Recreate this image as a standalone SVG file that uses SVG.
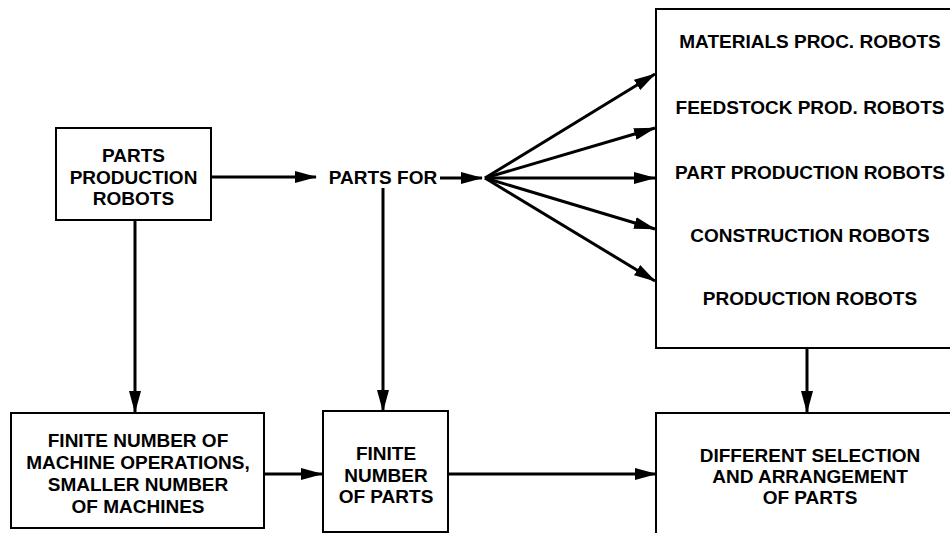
<svg xmlns="http://www.w3.org/2000/svg" width="950" height="533" viewBox="0 0 950 533">
<defs>
<marker id="ah" markerUnits="userSpaceOnUse" markerWidth="22" markerHeight="12" refX="21" refY="6" orient="auto">
<path d="M0,0 L22,6 L0,12 Z" fill="#000"/>
</marker>
<style>
.box{fill:#fff;stroke:#000;stroke-width:2}
.t{font-family:"Liberation Sans",Arial,sans-serif;font-weight:bold;font-size:19px;fill:#000;text-anchor:middle;dominant-baseline:central}
.c{stroke:#000;stroke-width:3;fill:none;marker-end:url(#ah)}
</style>
</defs>
<rect width="950" height="533" fill="#fff"/>
<g id="connectors">
<line class="c" x1="211" y1="177" x2="316" y2="177"/>
<line class="c" x1="440" y1="178" x2="482" y2="178"/>
<line class="c" x1="485" y1="178" x2="655" y2="74"/>
<line class="c" x1="485" y1="178" x2="655" y2="128"/>
<line class="c" x1="485" y1="178" x2="655" y2="178"/>
<line class="c" x1="485" y1="178" x2="655" y2="229"/>
<line class="c" x1="485" y1="178" x2="655" y2="281"/>
<line class="c" x1="135" y1="220" x2="135" y2="412"/>
<line class="c" x1="383" y1="188" x2="383" y2="411"/>
<line class="c" x1="807" y1="348" x2="807" y2="412"/>
<line class="c" x1="264" y1="474" x2="322" y2="474"/>
<line class="c" x1="448" y1="474" x2="656" y2="474"/>
</g>
<g id="parts-production-robots">
<rect class="box" x="56" y="128" width="155" height="92"/>
<text class="t" x="133.5" y="155">PARTS</text>
<text class="t" x="133.5" y="177">PRODUCTION</text>
<text class="t" x="133.5" y="198">ROBOTS</text>
</g>
<g id="parts-for">
<text class="t" x="383" y="177">PARTS FOR</text>
</g>
<g id="robot-types">
<rect class="box" x="656" y="9" width="300" height="339"/>
<text class="t" x="810" y="41">MATERIALS PROC. ROBOTS</text>
<text class="t" x="810" y="107">FEEDSTOCK PROD. ROBOTS</text>
<text class="t" x="810" y="172">PART PRODUCTION ROBOTS</text>
<text class="t" x="810" y="235">CONSTRUCTION ROBOTS</text>
<text class="t" x="810" y="298">PRODUCTION ROBOTS</text>
</g>
<g id="finite-operations">
<rect class="box" x="11" y="413" width="253" height="115"/>
<text class="t" x="138" y="440">FINITE NUMBER OF</text>
<text class="t" x="138" y="462">MACHINE OPERATIONS,</text>
<text class="t" x="138" y="484">SMALLER NUMBER</text>
<text class="t" x="138" y="506">OF MACHINES</text>
</g>
<g id="finite-parts">
<rect class="box" x="323" y="411" width="125" height="121"/>
<text class="t" x="386" y="453">FINITE</text>
<text class="t" x="386" y="475">NUMBER</text>
<text class="t" x="386" y="496">OF PARTS</text>
</g>
<g id="different-selection">
<rect class="box" x="656" y="413" width="300" height="130"/>
<text class="t" x="810" y="455">DIFFERENT SELECTION</text>
<text class="t" x="810" y="476">AND ARRANGEMENT</text>
<text class="t" x="810" y="497">OF PARTS</text>
</g>
</svg>
